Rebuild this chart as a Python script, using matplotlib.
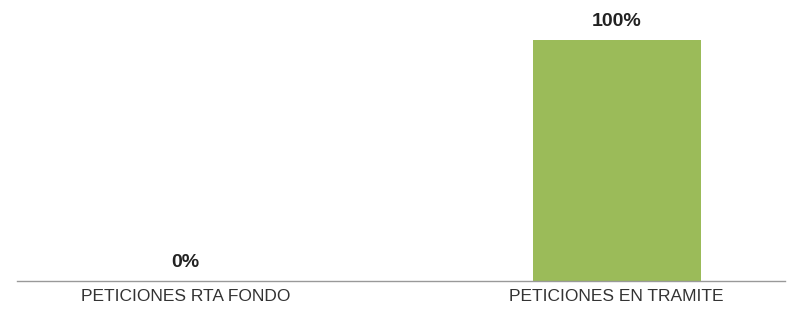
import matplotlib
matplotlib.use("Agg")
import matplotlib.pyplot as plt

categorias = ["PETICIONES RTA FONDO", "PETICIONES EN TRAMITE"]
valores = [0, 100]
etiquetas = ["0%", "100%"]

plt.rcParams['font.family'] = ['Liberation Sans', 'DejaVu Sans']

fig = plt.figure(figsize=(8.02, 3.09), dpi=100)
# eje de 17 a 785 px, base en y=281, tope de la barra en y=40
ax = fig.add_axes([17 / 802, 28 / 309, (785 - 17) / 802, (281 - 40) / 309])

x = range(len(categorias))
ax.bar(x, valores, width=0.39, color="#9BBB59")
for xi, v, t in zip(x, valores, etiquetas):
    ax.annotate(t, (xi, v), xytext=(0, 7), textcoords="offset points",
                ha="center", va="bottom", fontsize=14, fontweight="bold",
                color="#222222", annotation_clip=False)

ax.set_xlim(-0.39, 1.39)
ax.set_ylim(0, 100)
ax.set_xticks(list(x))
ax.set_xticklabels(categorias, fontsize=12.5, color="#333333")
ax.tick_params(axis="x", length=0, pad=6)
ax.set_yticks([])
for s in ["top", "right", "left"]:
    ax.spines[s].set_visible(False)
ax.spines["bottom"].set_color("#999999")
ax.spines["bottom"].set_linewidth(1)

fig.savefig("out.png", dpi=100)
